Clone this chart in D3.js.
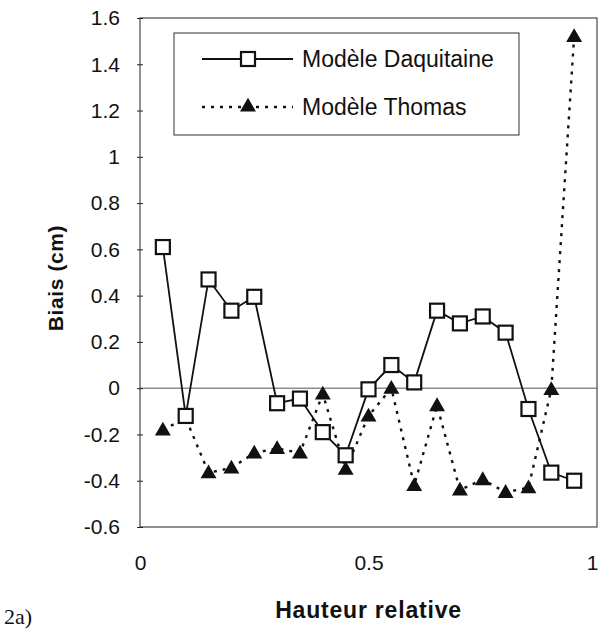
<!DOCTYPE html>
<html>
<head>
<meta charset="utf-8">
<script src="https://cdn.jsdelivr.net/npm/d3@7"></script>
<style>
  html, body { margin: 0; padding: 0; background: #fff; }
  svg { display: block; font-family: "Liberation Sans", Arial, Helvetica, sans-serif; }
</style>
</head>
<body>
<svg id="chart" width="599" height="631"></svg>
<script>
// ---- data ----
const hauteur = [0.05, 0.10, 0.15, 0.20, 0.25, 0.30, 0.35, 0.40, 0.45, 0.50,
                 0.55, 0.60, 0.65, 0.70, 0.75, 0.80, 0.85, 0.90, 0.95];
const daquitaine = [0.61, -0.12, 0.47, 0.335, 0.395, -0.065, -0.045, -0.19, -0.29, -0.005,
                    0.10, 0.025, 0.335, 0.28, 0.31, 0.24, -0.09, -0.365, -0.40];
const thomas = [-0.18, -0.13, -0.365, -0.345, -0.28, -0.26, -0.28, -0.025, -0.35, -0.12,
                0.00, -0.42, -0.075, -0.44, -0.395, -0.45, -0.43, -0.005, 1.52];
const yTicks = [-0.6, -0.4, -0.2, 0, 0.2, 0.4, 0.6, 0.8, 1, 1.2, 1.4, 1.6];
const xTicks = [0, 0.5, 1];
const seriesNames = ["Modèle Daquitaine", "Modèle Thomas"];
const xTitle = "Hauteur relative";
const yTitle = "Biais (cm)";
const panelLabel = "2a)";

// ---- layout ----
const svg = d3.select("#chart");
const L = 140, R = 597, T = 18, B = 527;
const x = d3.scaleLinear().domain([0, 1]).range([L, R]);
const y = d3.scaleLinear().domain([-0.6, 1.6]).range([B, T]);

// plot frame
svg.append("rect")
  .attr("x", L).attr("y", T).attr("width", R - L).attr("height", B - T)
  .attr("fill", "none").attr("stroke", "#222").attr("stroke-width", 1);

// zero line
svg.append("line")
  .attr("x1", L).attr("x2", R).attr("y1", y(0)).attr("y2", y(0))
  .attr("stroke", "#555").attr("stroke-width", 1);

// y axis
const yAxis = svg.append("g")
  .attr("transform", `translate(${L},0)`)
  .call(d3.axisLeft(y).tickValues(yTicks).tickSize(3).tickPadding(17)
        .tickFormat(d => String(+d.toFixed(1))));
yAxis.select(".domain").remove();
yAxis.selectAll(".tick line").attr("x1", -3).attr("x2", 3).attr("stroke", "#222");
yAxis.selectAll(".tick text").attr("font-size", 21).attr("fill", "#111")
  .attr("font-family", "Liberation Sans, Arial, sans-serif");

// x axis
const xAxis = svg.append("g")
  .attr("transform", `translate(0,${B})`)
  .call(d3.axisBottom(x).tickValues(xTicks).tickSize(0).tickPadding(28)
        .tickFormat(d => String(d)));
xAxis.select(".domain").remove();
xAxis.selectAll(".tick text").attr("font-size", 21).attr("fill", "#111")
  .attr("font-family", "Liberation Sans, Arial, sans-serif")
  .attr("dx", d => d === 1 ? -5 : 0);

// titles
svg.append("text")
  .attr("x", (L + R) / 2).attr("y", 618)
  .attr("text-anchor", "middle").attr("font-size", 23).attr("font-weight", "bold")
  .attr("letter-spacing", 0.8).attr("fill", "#111")
  .text(xTitle);
svg.append("text")
  .attr("transform", `translate(63,278) rotate(-90)`)
  .attr("text-anchor", "middle").attr("font-size", 21).attr("font-weight", "bold")
  .attr("letter-spacing", 0.6).attr("fill", "#111")
  .text(yTitle);
svg.append("text")
  .attr("x", 4).attr("y", 624)
  .attr("font-family", "Liberation Serif, Times New Roman, serif")
  .attr("font-size", 22).attr("fill", "#111")
  .text(panelLabel);

// series
const ptsD = hauteur.map((h, i) => [h, daquitaine[i]]);
const ptsT = hauteur.map((h, i) => [h, thomas[i]]);
const line = d3.line().x(d => x(d[0])).y(d => y(d[1]));

svg.append("path").datum(ptsT).attr("d", line)
  .attr("fill", "none").attr("stroke", "#111").attr("stroke-width", 2.4)
  .attr("stroke-dasharray", "3,6");
svg.append("path").datum(ptsD).attr("d", line)
  .attr("fill", "none").attr("stroke", "#111").attr("stroke-width", 1.8);

const tri = d3.symbol().type(d3.symbolTriangle).size(110);
svg.append("g").selectAll("path").data(ptsT).join("path")
  .attr("d", tri)
  .attr("transform", d => `translate(${x(d[0])},${y(d[1]) + 1})`)
  .attr("fill", "#111");

const sq = 14;
svg.append("g").selectAll("rect").data(ptsD).join("rect")
  .attr("x", d => x(d[0]) - sq / 2).attr("y", d => y(d[1]) - sq / 2)
  .attr("width", sq).attr("height", sq)
  .attr("fill", "#fff").attr("stroke", "#111").attr("stroke-width", 2.2);

// legend
const lg = svg.append("g");
lg.append("rect").attr("x", 174).attr("y", 33).attr("width", 345).attr("height", 102)
  .attr("fill", "#fff").attr("stroke", "#333").attr("stroke-width", 1);
const rowsY = [59, 107];
lg.append("line").attr("x1", 202).attr("x2", 293).attr("y1", rowsY[0]).attr("y2", rowsY[0])
  .attr("stroke", "#111").attr("stroke-width", 1.8);
lg.append("rect").attr("x", 248 - sq / 2).attr("y", rowsY[0] - sq / 2)
  .attr("width", sq).attr("height", sq)
  .attr("fill", "#fff").attr("stroke", "#111").attr("stroke-width", 2.2);
lg.append("line").attr("x1", 202).attr("x2", 293).attr("y1", rowsY[1]).attr("y2", rowsY[1])
  .attr("stroke", "#111").attr("stroke-width", 2.4).attr("stroke-dasharray", "3,6");
lg.append("path").attr("d", tri).attr("transform", `translate(248,${rowsY[1]})`)
  .attr("fill", "#111");
lg.selectAll("text.leg").data(seriesNames).join("text")
  .attr("class", "leg")
  .attr("x", 302).attr("y", (d, i) => rowsY[i] + 8)
  .attr("font-size", 23).attr("fill", "#111")
  .text(d => d);
</script>
</body>
</html>
